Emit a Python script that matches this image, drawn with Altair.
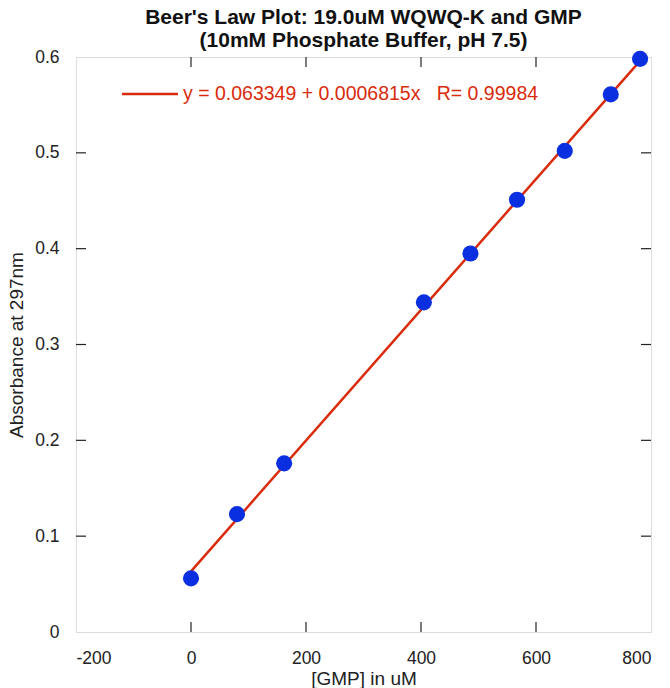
import altair as alt
import pandas as pd

# data
gmp = [0, 80, 162, 405, 486, 567, 650, 730, 781]
absorbance = [0.056, 0.123, 0.176, 0.344, 0.395, 0.451, 0.502, 0.561, 0.598]
fit_x = [0, 781]
fit_y = [0.0633, 0.596]
x_tick_labels = [-200, 0, 200, 400, 600, 800]
y_tick_labels = [0, 0.1, 0.2, 0.3, 0.4, 0.5, 0.6]
x_inner_ticks = [0, 200, 400, 600]
y_inner_ticks = [0.1, 0.2, 0.3, 0.4, 0.5]
legend_text = ["y = 0.063349 + 0.0006815x\u00a0\u00a0\u00a0R= 0.99984"]

W, H = 575, 575
TICK = 10
RED = "#d92b0c"
BLUE = "#0a2fe0"
FONT = "Liberation Sans"

pts = pd.DataFrame({"x": gmp, "y": absorbance})
fit = pd.DataFrame({"x": fit_x, "y": fit_y})
xt = pd.DataFrame({"x": x_inner_ticks})
yt = pd.DataFrame({"y": y_inner_ticks})
leg = pd.DataFrame({"t": legend_text})

xs = alt.Scale(domain=[-200, 800], nice=False, zero=False)
ys = alt.Scale(domain=[0, 0.6], nice=False, zero=False)

x_axis = alt.Axis(values=x_tick_labels, tickSize=0, domain=False, grid=False,
                  labelExpr="'' + datum.value",
                  labelPadding=17, labelFontSize=17.5, labelColor="#222", labelFont=FONT,
                  title="[GMP] in uM", titleFontSize=19, titleFontWeight="normal",
                  titleColor="#222", titleFont=FONT, titlePadding=3)
y_axis = alt.Axis(values=y_tick_labels, tickSize=0, domain=False, grid=False,
                  labelPadding=17, labelFontSize=17.5, labelColor="#222", labelFont=FONT,
                  labelExpr="datum.value == 0 ? '0' : format(datum.value, '.1f')",
                  title="Absorbance at 297nm", titleFontSize=19, titleFontWeight="normal",
                  titleColor="#222", titleFont=FONT, titlePadding=8)

line = alt.Chart(fit).mark_line(color=RED, strokeWidth=2.5).encode(
    x=alt.X("x:Q", scale=xs, axis=x_axis),
    y=alt.Y("y:Q", scale=ys, axis=y_axis),
)
points = alt.Chart(pts).mark_circle(color=BLUE, size=260, opacity=1).encode(
    x=alt.X("x:Q", scale=xs), y=alt.Y("y:Q", scale=ys)
)

bt = alt.Chart(xt).mark_rule(color="#222", strokeWidth=1.2).encode(
    x=alt.X("x:Q", scale=xs), y=alt.value(H), y2=alt.value(H - TICK))
tt = alt.Chart(xt).mark_rule(color="#222", strokeWidth=1.2).encode(
    x=alt.X("x:Q", scale=xs), y=alt.value(0), y2=alt.value(TICK))
lt = alt.Chart(yt).mark_rule(color="#222", strokeWidth=1.2).encode(
    y=alt.Y("y:Q", scale=ys), x=alt.value(0), x2=alt.value(TICK))
rt = alt.Chart(yt).mark_rule(color="#222", strokeWidth=1.2).encode(
    y=alt.Y("y:Q", scale=ys), x=alt.value(W), x2=alt.value(W - TICK))

leg_line = alt.Chart(leg).mark_rule(color=RED, strokeWidth=2.5).encode(
    x=alt.value(46), x2=alt.value(102), y=alt.value(37))
leg_text = alt.Chart(leg).mark_text(color=RED, font=FONT, fontSize=19.5, align="left",
                                    baseline="middle").encode(
    x=alt.value(107), y=alt.value(37), text="t:N")

chart = alt.layer(bt, tt, lt, rt, line, points, leg_line, leg_text).properties(
    width=W, height=H,
    title=alt.TitleParams(
        text=["Beer's Law Plot: 19.0uM WQWQ-K and GMP", "(10mM Phosphate Buffer, pH 7.5)"],
        fontSize=21, font=FONT, fontWeight="bold", color="#111", anchor="middle", offset=-3,
        lineHeight=23),
    autosize=alt.AutoSizeParams(type="none"),
    padding={"left": 76, "top": 57, "right": 19, "bottom": 56},
).configure_view(stroke="#222", strokeWidth=1.5).configure(background="white")

chart.save("out.html", embed_options={"renderer": "svg", "actions": False})
